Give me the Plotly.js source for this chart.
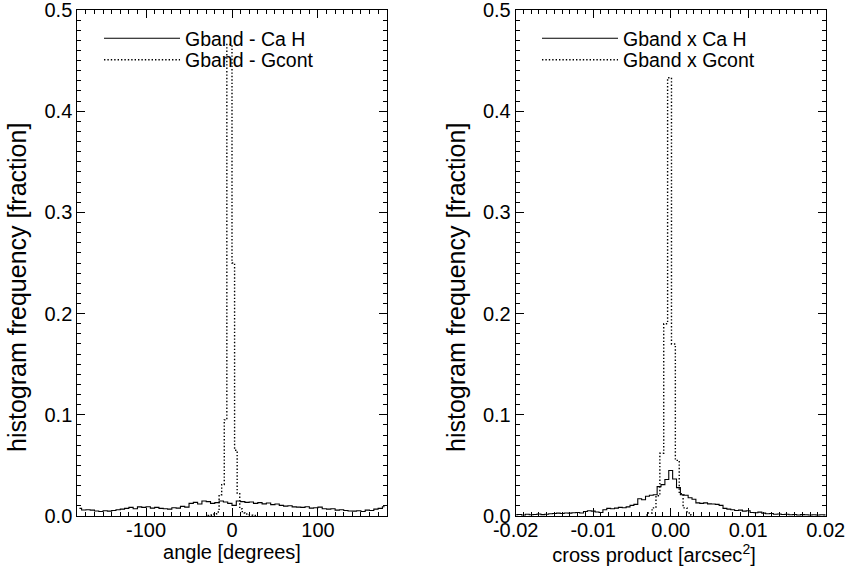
<!DOCTYPE html>
<html>
<head>
<meta charset="utf-8">
<script src="https://cdn.plot.ly/plotly-3.0.1.min.js"></script>
<style>
  html, body { margin: 0; padding: 0; background: #fff; }
  #chart { width: 847px; height: 572px; }
</style>
</head>
<body>
<div id="chart"></div>
<script>
// ---- Data ----
// Left panel: angle histograms (degrees)
const angleCaHStart = -177.5;   // first bin centre
const angleCaHWidth = 5;        // bin width
const angleCaH = [
  0.0075, 0.0060, 0.0062, 0.0058, 0.0050, 0.0045, 0.0052, 0.0048, 0.0055, 0.0062,
  0.0068, 0.0075, 0.0085, 0.0072, 0.0090, 0.0085, 0.0092, 0.0078, 0.0085, 0.0075,
  0.0072, 0.0068, 0.0082, 0.0078, 0.0095, 0.0088, 0.0125, 0.0135, 0.0118, 0.0148,
  0.0142, 0.0125, 0.0132, 0.0148, 0.0138, 0.0125, 0.0105, 0.0148, 0.0142, 0.0135,
  0.0138, 0.0125, 0.0132, 0.0120, 0.0128, 0.0112, 0.0118, 0.0105, 0.0098, 0.0102,
  0.0090, 0.0088, 0.0085, 0.0092, 0.0078, 0.0082, 0.0088, 0.0072, 0.0068, 0.0072,
  0.0058, 0.0062, 0.0055, 0.0050, 0.0048, 0.0052, 0.0045, 0.0058, 0.0055, 0.0068,
  0.0075, 0.0092
];
const angleGcontStart = -28.5;
const angleGcontWidth = 3;
const angleGcont = [
  0.0005, 0.0008, 0.0012, 0.0020, 0.0040, 0.0210, 0.0310, 0.0950, 0.4660, 0.4660,
  0.2500, 0.0650, 0.0220, 0.0070, 0.0030, 0.0020, 0.0012, 0.0008, 0.0005, 0.0003
];

// Right panel: cross product histograms (arcsec^2)
const crossCaHStart = -0.02;
const crossCaHWidth = 0.0005;
const crossCaH = [
  0.0012, 0.0015, 0.0010, 0.0018, 0.0012, 0.0015, 0.0020, 0.0014, 0.0018, 0.0022,
  0.0025, 0.0028, 0.0024, 0.0030, 0.0028, 0.0032, 0.0035, 0.0030, 0.0045, 0.0052,
  0.0048, 0.0040, 0.0035, 0.0062, 0.0075, 0.0072, 0.0078, 0.0085, 0.0082, 0.0090,
  0.0105, 0.0115, 0.0170, 0.0160, 0.0195, 0.0205, 0.0210, 0.0290, 0.0310, 0.0360,
  0.0450,
  0.0365, 0.0280, 0.0210, 0.0205, 0.0180, 0.0165, 0.0130, 0.0125, 0.0130, 0.0120,
  0.0118, 0.0115, 0.0105, 0.0075, 0.0068, 0.0062, 0.0055, 0.0058, 0.0048, 0.0052,
  0.0035, 0.0032, 0.0038, 0.0028, 0.0022, 0.0025, 0.0018, 0.0020, 0.0015, 0.0018,
  0.0012, 0.0015, 0.0010, 0.0014, 0.0012, 0.0010, 0.0013, 0.0010, 0.0012, 0.0011
];
const crossGcontStart = -0.00315;
const crossGcontWidth = 0.0005;
const crossGcont = [
  0.0010, 0.0030, 0.0080, 0.0200, 0.0620, 0.1900, 0.4330, 0.1700, 0.0550, 0.0220,
  0.0080, 0.0030, 0.0010
];

const yTickVals = [0, 0.1, 0.2, 0.3, 0.4, 0.5];
const yTickText = ['0.0', '0.1', '0.2', '0.3', '0.4', '0.5'];
const angleTickVals = [-100, 0, 100];
const angleTickText = ['-100', '0', '100'];
const crossTickVals = [-0.02, -0.01, 0.00, 0.01, 0.02];
const crossTickText = ['-0.02', '-0.01', '0.00', '0.01', '0.02'];

const legendLeft = ['Gband - Ca H', 'Gband - Gcont'];
const legendRight = ['Gband x Ca H', 'Gband x Gcont'];
const xTitleLeft = 'angle [degrees]';
const xTitleRight = 'cross product [arcsec<sup>2</sup>]&nbsp;&nbsp;&nbsp;&nbsp;&nbsp;&nbsp;';
const yTitle = 'histogram frequency [fraction]&nbsp;&nbsp;&nbsp;&nbsp;&nbsp;&nbsp;&nbsp;';

// ---- helpers ----
function binCenters(start, width, n) {
  const out = [];
  for (let i = 0; i < n; i++) out.push(+(start + i * width).toFixed(6));
  return out;
}

const FONT = 'Liberation Sans, Arial, Helvetica, sans-serif';
const solid = { color: '#000', width: 1.1, shape: 'hvh', dash: 'solid' };
const dotted = { color: '#000', width: 1.4, shape: 'hvh', dash: '1.4px,2px' };

const traces = [
  { x: binCenters(angleCaHStart, angleCaHWidth, angleCaH.length), y: angleCaH,
    type: 'scatter', mode: 'lines', line: solid, name: legendLeft[0],
    xaxis: 'x', yaxis: 'y', legend: 'legend' },
  { x: binCenters(angleGcontStart, angleGcontWidth, angleGcont.length), y: angleGcont,
    type: 'scatter', mode: 'lines', line: dotted, name: legendLeft[1],
    xaxis: 'x', yaxis: 'y', legend: 'legend2' },
  { x: binCenters(crossCaHStart, crossCaHWidth, crossCaH.length), y: crossCaH,
    type: 'scatter', mode: 'lines', line: solid, name: legendRight[0],
    xaxis: 'x2', yaxis: 'y2', legend: 'legend3' },
  { x: binCenters(crossGcontStart, crossGcontWidth, crossGcont.length), y: crossGcont,
    type: 'scatter', mode: 'lines', line: dotted, name: legendRight[1],
    xaxis: 'x2', yaxis: 'y2', legend: 'legend4' }
];

function xAxis(domain, range, tickvals, ticktext, minorStep, title) {
  return {
    domain: domain, range: range, tickvals: tickvals, ticktext: ticktext,
    ticks: 'inside', ticklen: 8, tickwidth: 1, tickcolor: '#000',
    minor: { dtick: minorStep, ticklen: 4, tickwidth: 1, tickcolor: '#000', ticks: 'inside', showgrid: false },
    showline: true, linecolor: '#000', linewidth: 1, mirror: 'allticks',
    showgrid: false, zeroline: false, ticklabeloverflow: 'allow',
    ticklabelstandoff: -4,
    tickfont: { family: FONT, size: 20, color: '#000' },
    title: { text: title, font: { family: FONT, size: 20, color: '#000' }, standoff: 0 },
    fixedrange: true
  };
}
function yAxis(anchor) {
  return {
    anchor: anchor, domain: [0, 1], range: [0, 0.5], tickvals: yTickVals, ticktext: yTickText,
    ticks: 'inside', ticklen: 8, tickwidth: 1, tickcolor: '#000',
    minor: { dtick: 0.01, ticklen: 4, tickwidth: 1, tickcolor: '#000', ticks: 'inside', showgrid: false },
    showline: true, linecolor: '#000', linewidth: 1, mirror: 'allticks',
    showgrid: false, zeroline: false, ticklabeloverflow: 'allow',
    tickfont: { family: FONT, size: 20, color: '#000' },
    title: { text: yTitle, font: { family: FONT, size: 25, color: '#000' }, standoff: 10 },
    fixedrange: true
  };
}

const xa = xAxis([77.3 / 847, 386.7 / 847], [-180, 180], angleTickVals, angleTickText, 10, xTitleLeft);
xa.anchor = 'y';
const xa2 = xAxis([515.7 / 847, 825.7 / 847], [-0.02, 0.02], crossTickVals, crossTickText, 0.001, xTitleRight);
xa2.anchor = 'y2';

function legendAt(px, py) {
  return {
    bgcolor: 'rgba(0,0,0,0)', borderwidth: 0,
    font: { family: FONT, size: 19.5, color: '#000' },
    xanchor: 'left', yanchor: 'middle', itemwidth: 76,
    x: px / 847, y: 1 - (py - 10) / 506
  };
}

const layout = {
  width: 847, height: 572,
  margin: { l: 0, r: 0, t: 10, b: 56, pad: 0 },
  paper_bgcolor: '#fff', plot_bgcolor: '#fff',
  showlegend: true,
  xaxis: xa, yaxis: yAxis('x'),
  xaxis2: xa2, yaxis2: yAxis('x2'),
  legend: legendAt(99, 38.5),
  legend2: legendAt(99, 60),
  legend3: legendAt(537, 38.5),
  legend4: legendAt(537, 60)
};

Plotly.newPlot('chart', traces, layout, { displayModeBar: false, staticPlot: true });
</script>
</body>
</html>
